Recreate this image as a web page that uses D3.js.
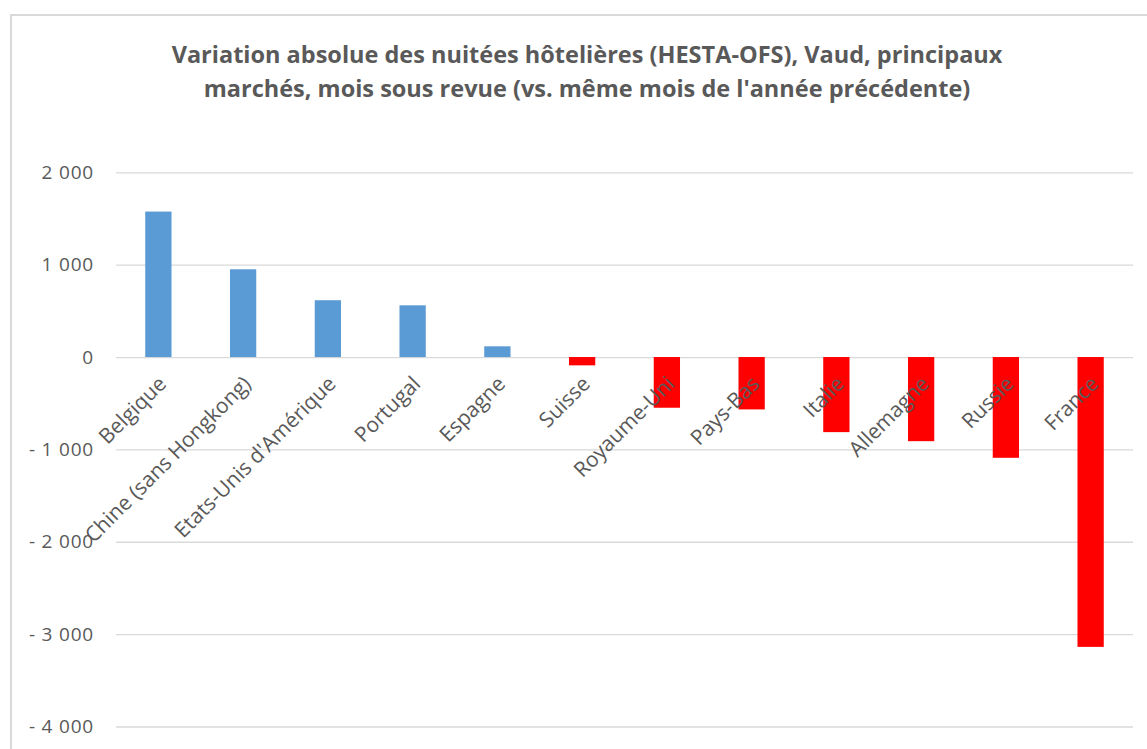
<!DOCTYPE html>
<html>
<head>
<meta charset="utf-8">
<script src="https://cdn.jsdelivr.net/npm/d3@7"></script>
<style>
  body { margin: 0; background: #fff; }
  svg text { font-family: "Open Sans", sans-serif; fill: #595959; }
</style>
</head>
<body>
<div id="chart"></div>
<script>
  // markets, sorted by variation
  const markets = ["Belgique", "Chine (sans Hongkong)", "Etats-Unis d'Amérique", "Portugal", "Espagne",
    "Suisse", "Royaume-Uni", "Pays-Bas", "Italie", "Allemagne", "Russie", "France"];
  const variation = [1575, 950, 615, 560, 116, -90, -549, -567, -813, -911, -1091, -3138];
  const yTicks = [2000, 1000, 0, -1000, -2000, -3000, -4000];
  const titleLines = ["Variation absolue des nuitées hôtelières (HESTA-OFS), Vaud, principaux",
    "marchés, mois sous revue (vs. même mois de l'année précédente)"];

  const width = 1147, height = 749;

  const svg = d3.select("#chart").append("svg")
    .attr("width", width)
    .attr("height", height);

  // chart frame, runs off the right and bottom edges
  svg.append("rect")
    .attr("x", 11).attr("y", 15)
    .attr("width", width + 20).attr("height", height + 20)
    .attr("fill", "none")
    .attr("stroke", "#d9d9d9")
    .attr("stroke-width", 2);

  svg.append("g").selectAll("text")
    .data(titleLines)
    .join("text")
    .attr("x", 587)
    .attr("y", (d, i) => 63 + i * 34)
    .attr("text-anchor", "middle")
    .attr("font-size", 23.5)
    .attr("font-weight", "bold")
    .text(d => d);

  const x = d3.scaleBand()
    .domain(markets)
    .range([116, 1133])
    .paddingInner(0.69)
    .paddingOuter(0.345);

  const y = d3.scaleLinear()
    .domain([-4000, 2000])
    .range([726.5, 172.3]);

  const fmt = v => (v < 0 ? "- " : "") + d3.format(",")(Math.abs(v)).replace(/,/g, " ");

  // gridlines and value labels
  const yAxis = d3.axisLeft(y)
    .tickValues(yTicks)
    .tickSize(-(1133 - 116))
    .tickPadding(22)
    .tickFormat(fmt);

  const gy = svg.append("g")
    .attr("transform", "translate(116,0)")
    .call(yAxis);
  gy.select(".domain").remove();
  gy.selectAll(".tick line").attr("stroke", "#d9d9d9").attr("stroke-width", 1.3);
  gy.selectAll(".tick text")
    .attr("font-size", 19)
    .attr("letter-spacing", 0.8)
    .attr("fill", "#595959");

  svg.append("g").selectAll("rect")
    .data(markets)
    .join("rect")
    .attr("x", d => x(d))
    .attr("width", x.bandwidth())
    .attr("y", (d, i) => y(Math.max(0, variation[i])))
    .attr("height", (d, i) => Math.abs(y(variation[i]) - y(0)))
    .attr("fill", (d, i) => variation[i] >= 0 ? "#5b9bd5" : "#ff0000");

  // category labels sit on the zero line, rotated
  svg.append("g").selectAll("text")
    .data(markets)
    .join("text")
    .attr("transform", d => `translate(${x(d) + x.bandwidth() / 2 - 2},${y(0) + 17}) rotate(-45)`)
    .attr("text-anchor", "end")
    .attr("dy", "0.75em")
    .attr("font-size", 21)
    .text(d => d);
</script>
</body>
</html>
